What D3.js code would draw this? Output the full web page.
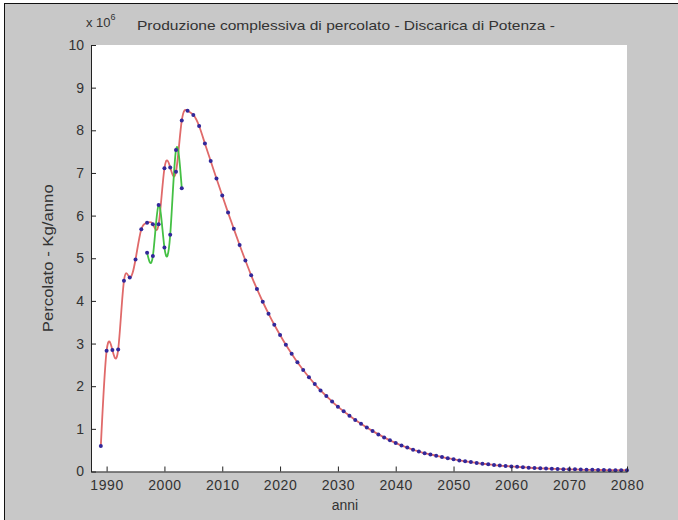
<!DOCTYPE html>
<html>
<head>
<meta charset="utf-8">
<script src="https://cdn.jsdelivr.net/npm/d3@7"></script>
<style>
  body { margin: 0; background: #fff; }
  svg { display: block; font-family: "Liberation Sans", Arial, sans-serif; }
</style>
</head>
<body>
<div id="chart"></div>
<script>
// yearly model values (x 10^6 kg/anno), from 1989 to 2080
var firstYear = 1989;
var modelValues = [
    0.60, 2.83, 2.85, 2.86, 4.47, 4.55, 4.97, 5.68, 5.83, 5.80,
    5.80, 7.11, 7.13, 7.03, 8.23, 8.46, 8.36, 8.10, 7.69, 7.28,
    6.87, 6.47, 6.07, 5.69, 5.31, 4.95, 4.60, 4.28, 3.98, 3.70,
    3.44, 3.20, 2.97, 2.76, 2.56, 2.38, 2.21, 2.05, 1.90, 1.77,
    1.64, 1.52, 1.41, 1.31, 1.21, 1.12, 1.03, 0.95, 0.87, 0.80,
    0.73, 0.67, 0.61, 0.56, 0.51, 0.47, 0.43, 0.40, 0.37, 0.34,
    0.31, 0.29, 0.26, 0.24, 0.22, 0.20, 0.18, 0.17, 0.15, 0.14,
    0.13, 0.12, 0.11, 0.10, 0.09, 0.08, 0.075, 0.07, 0.065, 0.06,
    0.055, 0.05, 0.05, 0.045, 0.04, 0.04, 0.035, 0.035, 0.03, 0.03,
    0.03, 0.03
];

// measured values, 1997 - 2003
var measuredYears = [1997, 1998, 1999, 2000, 2001, 2002, 2003];
var measuredValues = [5.13, 5.05, 6.25, 5.25, 5.55, 7.54, 6.64];

var xTicks = [1990, 2000, 2010, 2020, 2030, 2040, 2050, 2060, 2070, 2080];
var yTicks = [0, 1, 2, 3, 4, 5, 6, 7, 8, 9, 10];

function init() {
    var model = modelValues.map((v, i) => ({ year: firstYear + i, value: v }));
    var measured = measuredYears.map((y, i) => ({ year: y, value: measuredValues[i] }));
    drawChart(model, measured);
}

function drawChart(model, measured) {
    var w = 678, h = 520;
    var box = { left: 91, right: 627, top: 45, bottom: 471.5 };

    var svg = d3.select("#chart")
        .append("svg")
        .attr("width", w)
        .attr("height", h);

    // figure background (grey window with a dark frame at top and left)
    svg.append("rect")
        .attr("x", 4).attr("y", 3)
        .attr("width", w - 4).attr("height", h - 3)
        .attr("fill", "#c8c8c8");
    svg.append("line")
        .attr("x1", 4).attr("x2", w).attr("y1", 3.5).attr("y2", 3.5)
        .attr("stroke", "#111");
    svg.append("line")
        .attr("x1", 4.5).attr("x2", 4.5).attr("y1", 3).attr("y2", h)
        .attr("stroke", "#111");

    // axes area
    svg.append("rect")
        .attr("x", box.left).attr("y", box.top)
        .attr("width", box.right - box.left)
        .attr("height", box.bottom - box.top)
        .attr("fill", "#fff");

    var xScale = d3.scaleLinear()
        .domain([1987.3, 2080])
        .range([box.left, box.right]);

    var yScale = d3.scaleLinear()
        .domain([0, 10])
        .range([box.bottom, box.top]);

    var line = d3.line()
        .x(d => xScale(d.year))
        .y(d => yScale(d.value))
        .curve(d3.curveNatural);

    // model curve (red)
    svg.append("path")
        .attr("fill", "none")
        .attr("stroke", "#e06a6a")
        .attr("stroke-width", 1.8)
        .attr("d", line(model));

    // measured curve (green)
    svg.append("path")
        .attr("fill", "none")
        .attr("stroke", "#44c044")
        .attr("stroke-width", 1.8)
        .attr("d", line(measured));

    // markers
    svg.selectAll(".dot")
        .data(model.concat(measured))
        .enter()
        .append("circle")
        .attr("class", "dot")
        .attr("cx", d => xScale(d.year))
        .attr("cy", d => yScale(d.value))
        .attr("r", 2)
        .attr("fill", "#32289a");

    // axes, ticks inside
    var xAxis = svg.append("g")
        .attr("transform", `translate(0,${box.bottom})`)
        .call(d3.axisBottom(xScale).tickValues(xTicks).tickSizeInner(-5).tickSizeOuter(0).tickPadding(9).tickFormat(d3.format("d")));

    var yAxis = svg.append("g")
        .attr("transform", `translate(${box.left},0)`)
        .call(d3.axisLeft(yScale).tickValues(yTicks).tickSizeInner(-5).tickSizeOuter(0).tickPadding(7));

    [xAxis, yAxis].forEach(g => {
        g.select(".domain").attr("stroke", "#222");
        g.selectAll(".tick line").attr("stroke", "#222");
        g.selectAll(".tick text")
            .attr("fill", "#333")
            .style("font-size", "14px")
            .style("font-family", "'Liberation Sans', Arial, sans-serif");
    });
    xAxis.selectAll(".tick text").style("letter-spacing", "0.6px");

    // exponent and title
    var expo = svg.append("text")
        .attr("x", 86).attr("y", 27)
        .attr("fill", "#333")
        .style("font-size", "13px");
    expo.append("tspan").text("x 10");
    expo.append("tspan").attr("dy", -7).style("font-size", "9px").text("6");

    svg.append("text")
        .attr("x", 137).attr("y", 30)
        .attr("fill", "#333")
        .attr("textLength", 418)
        .attr("lengthAdjust", "spacingAndGlyphs")
        .style("font-size", "13.5px")
        .text("Produzione complessiva di percolato - Discarica di Potenza -");

    svg.append("text")
        .attr("x", 345).attr("y", 510)
        .attr("text-anchor", "middle")
        .attr("fill", "#333")
        .style("font-size", "14px")
        .text("anni");

    svg.append("text")
        .attr("transform", `translate(53,${(box.top + box.bottom) / 2}) rotate(-90)`)
        .attr("text-anchor", "middle")
        .attr("fill", "#333")
        .attr("textLength", 148)
        .attr("lengthAdjust", "spacingAndGlyphs")
        .style("font-size", "14px")
        .text("Percolato - Kg/anno");
}

window.onload = init;
</script>
</body>
</html>
